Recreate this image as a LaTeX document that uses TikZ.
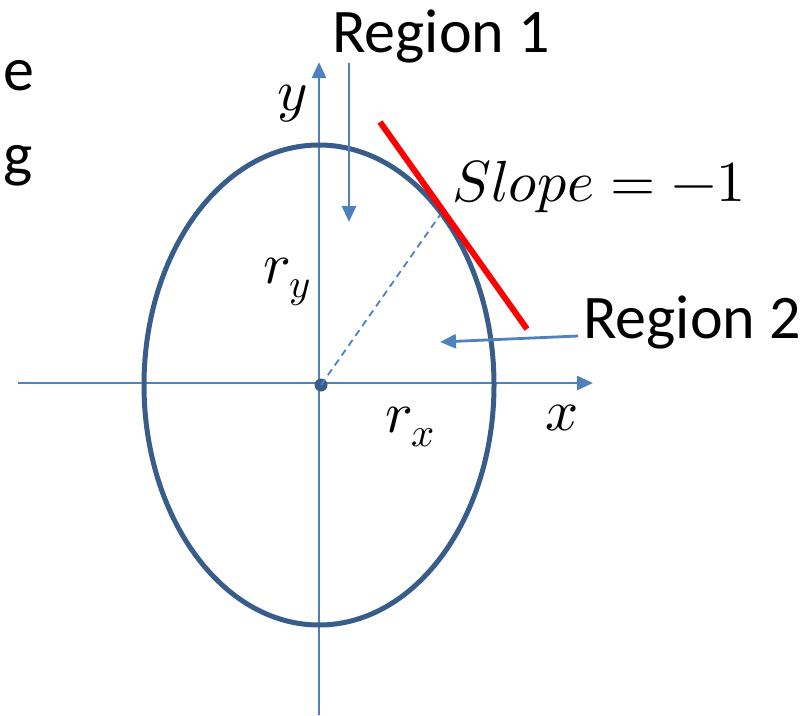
\documentclass[tikz,border=0pt]{standalone}
\usepackage{fontspec}
\usepackage{unicode-math}
\setmainfont{Carlito}
\setmathfont{Latin Modern Math}
\usetikzlibrary{arrows.meta}
\definecolor{axisblue}{HTML}{4F81BD}
\definecolor{ellblue}{HTML}{385D8A}
\tikzset{
  axis/.style={draw=axisblue, line width=2.8pt, -{Triangle[length=16pt,width=14pt]}},
  lbl/.style={inner sep=0pt, font=\fontsize{62}{70}\selectfont},
  mlbl/.style={inner sep=0pt, font=\fontsize{58}{66}\selectfont},
}
\begin{document}
\begin{tikzpicture}[x=1pt,y=-1pt]
\useasboundingbox (0,0) rectangle (810,715);
% axes
\coordinate (xs) at (18,383);
\coordinate (xe) at (593,383);
\coordinate (ys) at (319,715);
\coordinate (ye) at (319,62);
\draw[axis] (xs) -- (xe);
\draw[axis] (ys) -- (ye);
% ellipse
\coordinate (c) at (319,385);
\draw[ellblue, line width=5pt] (c) ellipse [x radius=175, y radius=240];
\fill[ellblue] (321,385) circle (6.5pt);
% dashed radius
\coordinate (tp) at (440,215);
\draw[axisblue, line width=1.8pt, dash pattern=on 7pt off 5pt] (321,385) -- (tp);
% tangent
\coordinate (t1) at (380,122);
\coordinate (t2) at (527,329);
\draw[red, line width=6pt] (t1) -- (t2);
% labels
\node[lbl, anchor=base] (r1) at (441,52) {Region 1};
\node[lbl, anchor=base west] (r2) at (583,338) {Region 2};
\node[mlbl, anchor=base west] (sl) at (452,201) {$Slope=-1$};
\node[mlbl, anchor=base] (ly) at (293,110) {$y$};
\node[mlbl, anchor=base] (lx) at (562,430) {$x$};
\node[mlbl, anchor=base] (lry) at (287,283) {$r_y$};
\node[mlbl, anchor=base] (lrx) at (410,432) {$r_x$};
\node[lbl, anchor=base west] (e) at (3,90) {e};
\node[lbl, anchor=base west] (g) at (3,175) {g};
% region arrows
\coordinate (a1s) at (349,63);
\coordinate (a1e) at (349,222);
\draw[axis] (a1s) -- (a1e);
\coordinate (a2s) at (578,336);
\coordinate (a2e) at (440,342);
\draw[axis] (a2s) -- (a2e);
\end{tikzpicture}
\end{document}
